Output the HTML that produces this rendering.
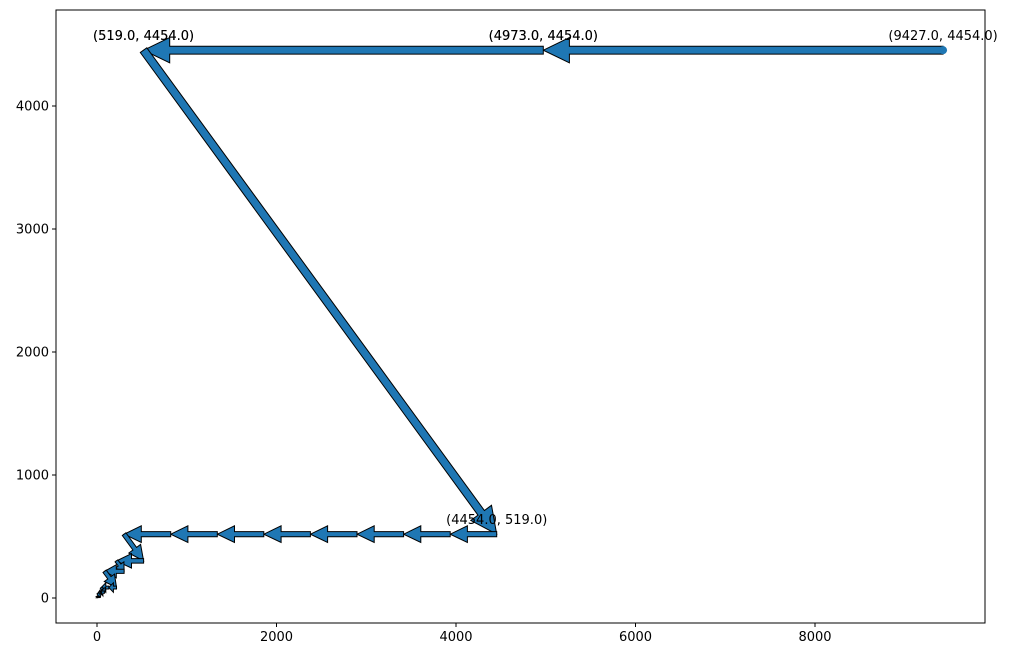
<!DOCTYPE html>
<html><head><meta charset="utf-8"><style>
body{margin:0;background:#fff}
svg text{font-family:"DejaVu Sans","Liberation Sans",sans-serif;font-size:13px}
</style></head><body>
<svg id="chart" width="1017" height="659" xmlns="http://www.w3.org/2000/svg">
<rect width="1017" height="659" fill="#fff"/>
<g id="marks"></g>
<g id="axes"></g>
</svg>
<script>
const xs=[9427,4973,519,4454,3935,3416,2897,2378,1859,1340,821,302,519,217,302,85,217,132,47,85,38,47,9,38,29,20,11,2,9,7,5,3,1,2,1,1];
const ys=[4454,4454,4454,519,519,519,519,519,519,519,519,519,302,302,217,217,85,85,85,47,47,38,38,9,9,9,9,9,2,2,2,2,2,1,1,0];
const labelIdx=[0,1,1,2,2,3];
const xTicks=[0,2000,4000,6000,8000];
const yTicks=[0,1000,2000,3000,4000];
const L=56,R=985,T=10,B=623;
const sx=v=>97+v*(815-97)/8000;
const sy=v=>598-v*(598-106)/4000;
const NS="http://www.w3.org/2000/svg";
const marks=document.getElementById('marks'),axes=document.getElementById('axes');
function mk(tag,attrs,parent){const e=document.createElementNS(NS,tag);for(const k in attrs)e.setAttribute(k,attrs[k]);parent.appendChild(e);return e;}
for(let i=0;i<xs.length-1;i++){
  const x1=sx(xs[i]),y1=sy(ys[i]),x2=sx(xs[i+1]),y2=sy(ys[i+1]);
  const dx=x2-x1,dy=y2-y1,len=Math.hypot(dx,dy);if(len<0.5)continue;
  const dl=Math.hypot(xs[i+1]-xs[i],ys[i+1]-ys[i]);
  const w=Math.max(0.6,Math.min(8,1.25*Math.log(dl)-2.6));
  const hw=w*1.6,hl=Math.min(w*3.3,len*0.6);
  const ux=dx/len,uy=dy/len,px=-uy,py=ux;
  const bx=x2-ux*hl,by=y2-uy*hl;
  const pts=[[x1+px*w/2,y1+py*w/2],[bx+px*w/2,by+py*w/2],[bx+px*hw,by+py*hw],[x2,y2],[bx-px*hw,by-py*hw],[bx-px*w/2,by-py*w/2],[x1-px*w/2,y1-py*w/2]];
  const p=mk('polygon',{points:pts.map(q=>q.map(v=>v.toFixed(1)).join(',')).join(' '),fill:'#1f77b4',stroke:'#000','stroke-width':1,'stroke-linejoin':'miter'},marks);
  
  
}
const dot=mk('circle',{cx:sx(xs[0]),cy:sy(ys[0]),r:4,fill:'#1f77b4'},marks);


labelIdx.forEach(i=>{
  const t=mk('text',{x:sx(xs[i]),y:sy(ys[i])-10,'text-anchor':'middle',fill:'#000'},marks);
  t.textContent='('+xs[i].toFixed(1)+', '+ys[i].toFixed(1)+')';
  
  
});
const fr=mk('rect',{x:L,y:T,width:R-L,height:B-T,fill:'none',stroke:'#000','stroke-width':1},axes);


xTicks.forEach(v=>{
  mk('line',{x1:sx(v),x2:sx(v),y1:B,y2:B+4,stroke:'#000'},axes);
  const t=mk('text',{x:sx(v),y:B+18,'text-anchor':'middle'},axes);t.textContent=v;
  
  
});
yTicks.forEach(v=>{
  mk('line',{x1:L-4,x2:L,y1:sy(v),y2:sy(v),stroke:'#000'},axes);
  const t=mk('text',{x:L-7,y:sy(v)+4.5,'text-anchor':'end'},axes);t.textContent=v;
  
  
});
</script>
</body></html>
